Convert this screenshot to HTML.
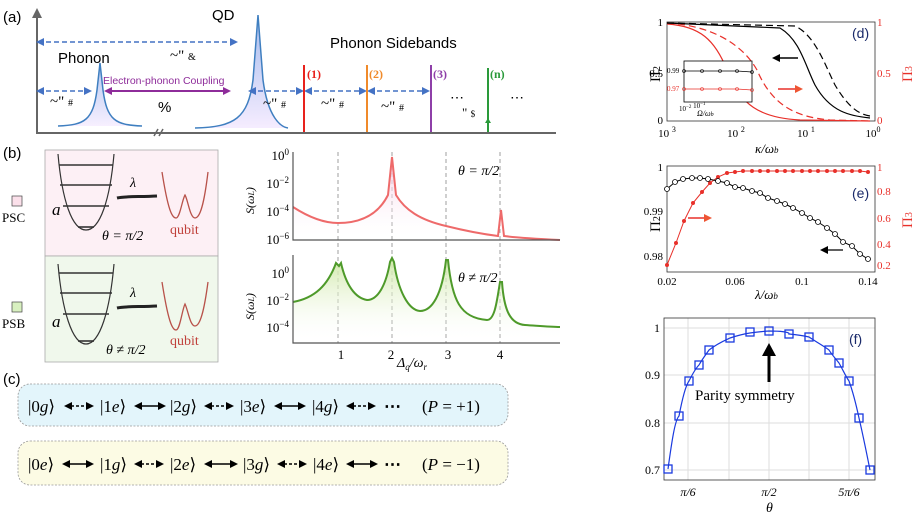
<!DOCTYPE html>
<html><head><meta charset="utf-8"><style>
body{margin:0;background:#fff}
svg{display:block}
.s{font-family:"Liberation Sans",sans-serif}
.m{font-family:"Liberation Serif",serif}
.i{font-family:"Liberation Serif",serif;font-style:italic}
</style></head><body>
<svg width="915" height="518" viewBox="0 0 915 518" xmlns="http://www.w3.org/2000/svg">
<defs>
<marker id="ah" markerWidth="8" markerHeight="8" refX="6" refY="4" orient="auto-start-reverse" markerUnits="userSpaceOnUse"><path d="M0,0 L8,4 L0,8 z" fill="#4472c4"/></marker>
<marker id="ap" markerWidth="8" markerHeight="8" refX="6" refY="4" orient="auto-start-reverse" markerUnits="userSpaceOnUse"><path d="M0,0 L8,4 L0,8 z" fill="#8e2c9a"/></marker>
<marker id="ak" markerWidth="8" markerHeight="8" refX="6" refY="4" orient="auto-start-reverse" markerUnits="userSpaceOnUse"><path d="M0,0 L8,4 L0,8 z" fill="#000"/></marker>
<marker id="ag" markerWidth="10" markerHeight="10" refX="8" refY="5" orient="auto" markerUnits="userSpaceOnUse"><path d="M0,0 L10,5 L0,10 z" fill="#666"/></marker>
<marker id="ar" markerWidth="8" markerHeight="8" refX="6" refY="4" orient="auto" markerUnits="userSpaceOnUse"><path d="M0,0 L8,4 L0,8 z" fill="#e53"/></marker>
<linearGradient id="pk" x1="0" y1="0" x2="0" y2="1"><stop offset="0" stop-color="#f4c6e0"/><stop offset="1" stop-color="#fff" stop-opacity="0"/></linearGradient>
<linearGradient id="gr" x1="0" y1="0" x2="0" y2="1"><stop offset="0" stop-color="#cfe8a8"/><stop offset="1" stop-color="#fff" stop-opacity="0"/></linearGradient>
<linearGradient id="pe" x1="0" y1="0" x2="0" y2="1"><stop offset="0" stop-color="#6a8fe0"/><stop offset="1" stop-color="#efe0ff"/></linearGradient>
</defs>

<!-- (a) -->
<text x="3" y="22" class="s" font-size="15">(a)</text>
<line x1="37" y1="134" x2="37" y2="10" stroke="#666" stroke-width="2" marker-end="url(#ag)"/>
<line x1="36" y1="133" x2="556" y2="133" stroke="#666" stroke-width="2"/>
<path d="M154,136 l4,-7 M159,136 l4,-7" stroke="#666" stroke-width="1.5"/>
<path d="M58,126 C85,125 93,120 97,90 L100,63 L103,90 C107,120 115,125 142,126 z" fill="url(#pe)" opacity="0.5"/>
<path d="M58,126 C85,125 93,120 97,90 L100,63 L103,90 C107,120 115,125 142,126" fill="none" stroke="#3f7fc0" stroke-width="1.5"/>
<path d="M195,128 C235,127 248,118 253,80 L258,15 L263,80 C268,118 281,127 288,128 z" fill="url(#pe)" opacity="0.6"/>
<path d="M195,128 C235,127 248,118 253,80 L258,15 L263,80 C268,118 281,127 288,128" fill="none" stroke="#3f7fc0" stroke-width="1.5"/>
<text x="58" y="63" class="s" font-size="15">Phonon</text>
<text x="212" y="20" class="s" font-size="15">QD</text>
<text x="330" y="48" class="s" font-size="15">Phonon Sidebands</text>
<g stroke="#4472c4" stroke-width="1.6" stroke-dasharray="5,3" fill="none">
<line x1="38" y1="42" x2="236" y2="42" marker-start="url(#ah)" marker-end="url(#ah)"/>
<line x1="38" y1="91" x2="90" y2="91" marker-start="url(#ah)" marker-end="url(#ah)"/>
<line x1="250" y1="91" x2="302" y2="91" marker-start="url(#ah)" marker-end="url(#ah)"/>
<line x1="306" y1="91" x2="365" y2="91" marker-start="url(#ah)" marker-end="url(#ah)"/>
<line x1="369" y1="91" x2="428" y2="91" marker-start="url(#ah)" marker-end="url(#ah)"/>
</g>
<line x1="106" y1="91" x2="229" y2="91" stroke="#8e2c9a" stroke-width="2" marker-start="url(#ap)" marker-end="url(#ap)"/>
<text x="103" y="84" class="s" font-size="10.5" fill="#8e2c9a">Electron-phonon Coupling</text>
<text x="158" y="112" class="s" font-size="15">%</text>
<text x="170" y="60" class="m" font-size="15">~" <tspan font-size="10">&amp;</tspan></text>
<text x="50" y="106" class="m" font-size="15">~" <tspan font-size="10">#</tspan></text>
<text x="263" y="108" class="m" font-size="15">~" <tspan font-size="10">#</tspan></text>
<text x="321" y="108" class="m" font-size="15">~" <tspan font-size="10">#</tspan></text>
<text x="381" y="111" class="m" font-size="15">~" <tspan font-size="10">#</tspan></text>
<line x1="304" y1="65" x2="304" y2="132" stroke="#e8221d" stroke-width="2"/>
<line x1="367" y1="65" x2="367" y2="132" stroke="#f08a2a" stroke-width="2"/>
<line x1="431" y1="65" x2="431" y2="132" stroke="#8e3fa8" stroke-width="2"/>
<line x1="488" y1="68" x2="488" y2="132" stroke="#2a9a3a" stroke-width="2"/>
<path d="M488,118 l-3,5 h6z" fill="#2a9a3a"/>
<text x="307" y="78" class="m" font-size="12" font-weight="bold" fill="#e8221d">(1)</text>
<text x="369" y="78" class="m" font-size="12" font-weight="bold" fill="#f08a2a">(2)</text>
<text x="433" y="78" class="m" font-size="12" font-weight="bold" fill="#8e3fa8">(3)</text>
<text x="490" y="78" class="m" font-size="12" font-weight="bold" fill="#2a9a3a">(n)</text>
<text x="450" y="102" class="s" font-size="14">⋯</text>
<text x="510" y="102" class="s" font-size="14">⋯</text>
<text x="462" y="117" class="m" font-size="13">" <tspan font-size="9">$</tspan></text>

<!-- (b) -->
<text x="3" y="158" class="s" font-size="15">(b)</text>
<rect x="45" y="150" width="173" height="106" fill="#fdf0f5" stroke="#aaa" stroke-width="0.8"/>
<rect x="45" y="256" width="173" height="106" fill="#f0f8ec" stroke="#aaa" stroke-width="0.8"/>
<rect x="12" y="196" width="10" height="10" fill="#fbe0ea" stroke="#444" stroke-width="0.7"/>
<text x="2" y="222" class="m" font-size="13">PSC</text>
<rect x="12" y="302" width="10" height="10" fill="#d8f0c0" stroke="#444" stroke-width="0.7"/>
<text x="2" y="328" class="m" font-size="13">PSB</text>
<g fill="none" stroke="#333" stroke-width="1.2">
<path d="M58,154 C62,200 72,230 86,230 C100,230 110,200 114,154"/>
<path d="M58,264 C62,310 72,344 86,344 C100,344 110,310 114,264"/>
</g>
<g stroke="#333" stroke-width="1.6">
<line x1="59" y1="165" x2="113" y2="165"/><line x1="60" y1="185" x2="112" y2="185"/><line x1="63" y1="206" x2="109" y2="206"/><line x1="78" y1="227" x2="94" y2="227"/>
<line x1="59" y1="273" x2="113" y2="273"/><line x1="60" y1="293" x2="112" y2="293"/><line x1="63" y1="314" x2="109" y2="314"/><line x1="78" y1="341" x2="94" y2="341"/>
</g>
<text x="52" y="215" class="i" font-size="17">a</text>
<text x="52" y="327" class="i" font-size="17">a</text>
<path d="M117,198 C125,196 140,197 157,196" stroke="#222" stroke-width="3"/>
<path d="M117,308 C125,306 140,307 157,306" stroke="#222" stroke-width="3"/>
<text x="130" y="187" class="i" font-size="14">λ</text>
<text x="130" y="297" class="i" font-size="14">λ</text>
<path d="M162,172 C168,210 172,218 176,218 C180,218 182,200 185,195 C188,200 190,218 195,218 C200,218 204,205 208,172" fill="none" stroke="#b8524a" stroke-width="1.3"/>
<path d="M162,282 C168,320 172,330 176,330 C180,330 182,310 185,304 C188,310 190,326 195,326 C200,326 204,312 208,282" fill="none" stroke="#b8524a" stroke-width="1.3"/>
<text x="170" y="234" class="m" font-size="14" fill="#c0403a">qubit</text>
<text x="170" y="345" class="m" font-size="14" fill="#c0403a">qubit</text>
<text x="102" y="240" class="i" font-size="14">θ = π/2</text>
<text x="106" y="354" class="i" font-size="14">θ ≠ π/2</text>

<!-- spectra -->
<g stroke="#888" stroke-width="0.8" stroke-dasharray="4,3">
<line x1="338" y1="152" x2="338" y2="343"/><line x1="392" y1="152" x2="392" y2="343"/><line x1="446" y1="152" x2="446" y2="343"/><line x1="500" y1="152" x2="500" y2="343"/>
</g>
<path d="M293,207 C310,218 325,223 338,223 C360,223 378,215 388,195 L392,157 L396,195 C405,210 420,220 446,226 C470,232 490,235 498,236 L501,210 L504,236 C520,238 540,239 560,240 L560,240 L293,240z" fill="url(#pk)"/>
<path d="M293,207 C310,218 325,223 338,223 C360,223 378,215 388,195 L392,157 L396,195 C405,210 420,220 446,226 C470,232 490,235 498,236 L501,210 L504,236 C520,238 540,239 560,240" fill="none" stroke="#ee6a6a" stroke-width="2"/>
<path d="M293,302 C315,298 328,285 336,263 L339,266 L341,263 C346,285 355,298 367,300 C378,300 386,285 390,262 L392,258 L394,262 C398,290 408,310 420,311 C432,311 442,295 446,260 L448,260 C452,300 460,318 487,320 C495,320 497,300 500,282 L502,282 C504,310 510,324 525,325 C540,326 550,327 560,327 L560,343 L293,343z" fill="url(#gr)"/>
<path d="M293,302 C315,298 328,285 336,263 L339,266 L341,263 C346,285 355,298 367,300 C378,300 386,285 390,262 L392,258 L394,262 C398,290 408,310 420,311 C432,311 442,295 446,260 L448,260 C452,300 460,318 487,320 C495,320 497,300 500,282 L502,282 C504,310 510,324 525,325 C540,326 550,327 560,327" fill="none" stroke="#4e9a2a" stroke-width="2"/>
<g fill="none" stroke="#555" stroke-width="1.2">
<polyline points="293,152 293,240 560,240"/>
<polyline points="293,255 293,343 560,343"/>
</g>
<g class="m" font-size="13" text-anchor="end">
<text x="289" y="160">10<tspan dy="-5" font-size="9">0</tspan></text>
<text x="289" y="188">10<tspan dy="-5" font-size="9">−2</tspan></text>
<text x="289" y="216">10<tspan dy="-5" font-size="9">−4</tspan></text>
<text x="289" y="244">10<tspan dy="-5" font-size="9">−6</tspan></text>
<text x="289" y="278">10<tspan dy="-5" font-size="9">0</tspan></text>
<text x="289" y="305">10<tspan dy="-5" font-size="9">−2</tspan></text>
<text x="289" y="332">10<tspan dy="-5" font-size="9">−4</tspan></text>
</g>
<text class="i" font-size="12" transform="translate(254,214) rotate(-90)">S(ω<tspan font-size="8">L</tspan>)</text>
<text class="i" font-size="12" transform="translate(254,320) rotate(-90)">S(ω<tspan font-size="8">L</tspan>)</text>
<text x="458" y="175" class="i" font-size="14">θ = π/2</text>
<text x="458" y="282" class="i" font-size="14">θ ≠ π/2</text>
<g class="m" font-size="13" text-anchor="middle">
<text x="341" y="359">1</text><text x="391" y="359">2</text><text x="448" y="359">3</text><text x="500" y="359">4</text>
</g>
<text x="397" y="367" class="i" font-size="14">Δ<tspan font-size="9" dy="3">q</tspan><tspan dy="-3">/ω</tspan><tspan font-size="9" dy="3">r</tspan></text>

<!-- (c) -->
<text x="3" y="384" class="s" font-size="15">(c)</text>
<rect x="18" y="384" width="490" height="42" rx="12" fill="#e3f5fb" stroke="#999" stroke-width="0.8" stroke-dasharray="2,1.5"/>
<rect x="18" y="441" width="490" height="44" rx="12" fill="#fcfbe4" stroke="#999" stroke-width="0.8" stroke-dasharray="2,1.5"/>
<g class="m" font-size="17">
<text x="28" y="412">|0<tspan font-style="italic">g</tspan>⟩</text>
<text x="100" y="412">|1<tspan font-style="italic">e</tspan>⟩</text>
<text x="170" y="412">|2<tspan font-style="italic">g</tspan>⟩</text>
<text x="240" y="412">|3<tspan font-style="italic">e</tspan>⟩</text>
<text x="312" y="412">|4<tspan font-style="italic">g</tspan>⟩</text>
<text x="384" y="412" font-weight="bold">⋯</text>
<text x="422" y="412">(<tspan font-style="italic">P</tspan> = +1)</text>
<text x="28" y="470">|0<tspan font-style="italic">e</tspan>⟩</text>
<text x="100" y="470">|1<tspan font-style="italic">g</tspan>⟩</text>
<text x="170" y="470">|2<tspan font-style="italic">e</tspan>⟩</text>
<text x="243" y="470">|3<tspan font-style="italic">g</tspan>⟩</text>
<text x="313" y="470">|4<tspan font-style="italic">e</tspan>⟩</text>
<text x="384" y="470" font-weight="bold">⋯</text>
<text x="422" y="470">(<tspan font-style="italic">P</tspan> = −1)</text>
</g>
<g stroke="#000" stroke-width="1.6">
<line x1="66" y1="406" x2="92" y2="406" stroke-dasharray="3,2" marker-start="url(#ak)" marker-end="url(#ak)"/>
<line x1="136" y1="406" x2="164" y2="406" marker-start="url(#ak)" marker-end="url(#ak)"/>
<line x1="206" y1="406" x2="232" y2="406" stroke-dasharray="3,2" marker-start="url(#ak)" marker-end="url(#ak)"/>
<line x1="276" y1="406" x2="304" y2="406" marker-start="url(#ak)" marker-end="url(#ak)"/>
<line x1="348" y1="406" x2="374" y2="406" stroke-dasharray="3,2" marker-start="url(#ak)" marker-end="url(#ak)"/>
<line x1="64" y1="464" x2="92" y2="464" marker-start="url(#ak)" marker-end="url(#ak)"/>
<line x1="136" y1="464" x2="162" y2="464" stroke-dasharray="3,2" marker-start="url(#ak)" marker-end="url(#ak)"/>
<line x1="206" y1="464" x2="236" y2="464" marker-start="url(#ak)" marker-end="url(#ak)"/>
<line x1="279" y1="464" x2="305" y2="464" stroke-dasharray="3,2" marker-start="url(#ak)" marker-end="url(#ak)"/>
<line x1="348" y1="464" x2="376" y2="464" marker-start="url(#ak)" marker-end="url(#ak)"/>
</g>

<!-- (d) -->
<rect x="667" y="22" width="208" height="99" fill="none" stroke="#333" stroke-width="0.8"/>
<path d="M667,24 C700,26 715,40 727,70 C740,105 760,118 800,120 L870,121" fill="none" stroke="#e8302a" stroke-width="1.2"/>
<path d="M667,23 C705,25 740,40 757,70 C772,105 795,117 830,120 L870,121" fill="none" stroke="#e8302a" stroke-width="1.2" stroke-dasharray="7,4"/>
<path d="M667,23 L780,28 C800,40 805,65 815,85 C830,112 850,116 870,118" fill="none" stroke="#000" stroke-width="1.2"/>
<path d="M667,23 L795,26 C815,35 825,65 835,85 C850,110 860,114 870,116" fill="none" stroke="#000" stroke-width="1.2" stroke-dasharray="7,4"/>
<rect x="684" y="61" width="68" height="41" fill="#fff" stroke="#000" stroke-width="0.8"/>
<polyline points="684,71 702,71 720,71 737,71 752,72" fill="none" stroke="#000" stroke-width="0.8"/>
<polyline points="684,89 702,89 720,89 737,89 752,90" fill="none" stroke="#e8302a" stroke-width="0.8"/>
<g fill="none" stroke="#000" stroke-width="0.6"><circle cx="684" cy="71" r="1.5"/><circle cx="702" cy="71" r="1.5"/><circle cx="720" cy="71" r="1.5"/><circle cx="737" cy="71" r="1.5"/><circle cx="752" cy="72" r="1.5"/></g>
<g fill="none" stroke="#e8302a" stroke-width="0.6"><circle cx="684" cy="89" r="1.5"/><circle cx="702" cy="89" r="1.5"/><circle cx="720" cy="89" r="1.5"/><circle cx="737" cy="89" r="1.5"/><circle cx="752" cy="90" r="1.5"/></g>
<text x="667" y="73" class="m" font-size="7">0.99</text>
<text x="667" y="91" class="m" font-size="7" fill="#e8302a">0.97</text>
<text x="679" y="111" class="m" font-size="7">10<tspan dy="-3" font-size="5">−2</tspan>    10<tspan dy="-3" font-size="5">−1</tspan></text>
<text x="697" y="116" class="i" font-size="8">Ω/ω<tspan font-size="6">b</tspan></text>
<line x1="798" y1="58" x2="774" y2="58" stroke="#000" stroke-width="1.5" marker-end="url(#ak)"/>
<line x1="778" y1="89" x2="801" y2="89" stroke="#e8302a" stroke-width="1.5" marker-end="url(#ar)"/>
<text x="852" y="38" class="s" font-size="14" fill="#1a2a6a">(d)</text>
<g class="m" font-size="11" text-anchor="end">
<text x="663" y="26">1</text><text x="663" y="77">0.5</text><text x="663" y="124">0</text>
</g>
<g class="m" font-size="11" fill="#e8302a">
<text x="877" y="26">1</text><text x="877" y="77">0.5</text><text x="877" y="124">0</text>
</g>
<text class="m" font-size="15" transform="translate(660,82) rotate(-90)">Π<tspan font-size="10">2</tspan></text>
<text class="m" font-size="15" fill="#e8302a" transform="translate(912,82) rotate(-90)">Π<tspan font-size="10">3</tspan></text>
<g class="m" font-size="11" text-anchor="middle">
<text x="667" y="137">10 <tspan dy="-5" font-size="8">3</tspan></text>
<text x="736" y="137">10 <tspan dy="-5" font-size="8">2</tspan></text>
<text x="806" y="137">10 <tspan dy="-5" font-size="8">1</tspan></text>
<text x="873" y="137">10<tspan dy="-5" font-size="8">0</tspan></text>
</g>
<text x="755" y="153" class="i" font-size="13">κ/ω<tspan font-size="9">b</tspan></text>

<!-- (e) -->
<rect x="667" y="166" width="208" height="106" fill="none" stroke="#333" stroke-width="0.8"/>
<polyline fill="none" stroke="#e8302a" stroke-width="1" points="667,265 676,243 684,221 693,203 702,192 710,183 718,177 727,173 735,172 743,171 752,171 760,171 768,171 777,171 785,171 793,171 802,171 810,171 818,171 827,171 835,171 843,171 852,171 860,171 868,172"/>
<g fill="#e8302a"><circle cx="667" cy="265" r="2"/><circle cx="676" cy="243" r="2"/><circle cx="684" cy="221" r="2"/><circle cx="693" cy="203" r="2"/><circle cx="702" cy="192" r="2"/><circle cx="710" cy="183" r="2"/><circle cx="718" cy="177" r="2"/><circle cx="727" cy="173" r="2"/><circle cx="735" cy="172" r="2"/><circle cx="743" cy="171" r="2"/><circle cx="752" cy="171" r="2"/><circle cx="760" cy="171" r="2"/><circle cx="768" cy="171" r="2"/><circle cx="777" cy="171" r="2"/><circle cx="785" cy="171" r="2"/><circle cx="793" cy="171" r="2"/><circle cx="802" cy="171" r="2"/><circle cx="810" cy="171" r="2"/><circle cx="818" cy="171" r="2"/><circle cx="827" cy="171" r="2"/><circle cx="835" cy="171" r="2"/><circle cx="843" cy="171" r="2"/><circle cx="852" cy="171" r="2"/><circle cx="860" cy="171" r="2"/><circle cx="868" cy="172" r="2"/></g>
<polyline fill="none" stroke="#000" stroke-width="1" points="667,189 675,182 683,179 692,178 700,178 708,179 718,181 727,183 735,187 743,188 752,191 760,193 768,198 777,201 785,204 793,208 802,213 810,218 818,222 827,228 835,234 843,242 852,246 860,254 868,259"/>
<g fill="#fff" stroke="#000" stroke-width="0.8"><circle cx="667" cy="189" r="2.5"/><circle cx="675" cy="182" r="2.5"/><circle cx="683" cy="179" r="2.5"/><circle cx="692" cy="178" r="2.5"/><circle cx="700" cy="178" r="2.5"/><circle cx="708" cy="179" r="2.5"/><circle cx="718" cy="181" r="2.5"/><circle cx="727" cy="183" r="2.5"/><circle cx="735" cy="187" r="2.5"/><circle cx="743" cy="188" r="2.5"/><circle cx="752" cy="191" r="2.5"/><circle cx="760" cy="193" r="2.5"/><circle cx="768" cy="198" r="2.5"/><circle cx="777" cy="201" r="2.5"/><circle cx="785" cy="204" r="2.5"/><circle cx="793" cy="208" r="2.5"/><circle cx="802" cy="213" r="2.5"/><circle cx="810" cy="218" r="2.5"/><circle cx="818" cy="222" r="2.5"/><circle cx="827" cy="228" r="2.5"/><circle cx="835" cy="234" r="2.5"/><circle cx="843" cy="242" r="2.5"/><circle cx="852" cy="246" r="2.5"/><circle cx="860" cy="254" r="2.5"/><circle cx="868" cy="259" r="2.5"/></g>
<line x1="688" y1="218" x2="710" y2="218" stroke="#e8302a" stroke-width="1.5" marker-end="url(#ar)"/>
<line x1="843" y1="250" x2="822" y2="250" stroke="#000" stroke-width="1.2" marker-end="url(#ak)"/>
<text x="852" y="198" class="s" font-size="14" fill="#1a2a6a">(e)</text>
<g class="m" font-size="11" text-anchor="end">
<text x="663" y="171">1</text><text x="663" y="215">0.99</text><text x="663" y="260">0.98</text>
</g>
<g class="m" font-size="11" fill="#e8302a">
<text x="877" y="171">1</text><text x="877" y="195">0.8</text><text x="877" y="222">0.6</text><text x="877" y="248">0.4</text><text x="877" y="269">0.2</text>
</g>
<text class="m" font-size="15" transform="translate(660,232) rotate(-90)">Π<tspan font-size="10">2</tspan></text>
<text class="m" font-size="15" fill="#e8302a" transform="translate(912,228) rotate(-90)">Π<tspan font-size="10">3</tspan></text>
<g class="m" font-size="11" text-anchor="middle">
<text x="667" y="285">0.02</text><text x="735" y="285">0.06</text><text x="802" y="285">0.1</text><text x="868" y="285">0.14</text>
</g>
<text x="755" y="299" class="i" font-size="13">λ/ω<tspan font-size="9">b</tspan></text>

<!-- (f) -->
<g stroke="#ddd" stroke-width="1">
<line x1="664" y1="328" x2="875" y2="328"/><line x1="664" y1="375" x2="875" y2="375"/><line x1="664" y1="423" x2="875" y2="423"/><line x1="664" y1="470" x2="875" y2="470"/>
<line x1="688" y1="318" x2="688" y2="480"/><line x1="729" y1="318" x2="729" y2="480"/><line x1="769" y1="318" x2="769" y2="480"/><line x1="809" y1="318" x2="809" y2="480"/><line x1="849" y1="318" x2="849" y2="480"/>
</g>
<rect x="664" y="318" width="211" height="162" fill="none" stroke="#333" stroke-width="0.8"/>
<path d="M668,469 C672,440 675,420 679,416 C683,395 686,385 689,381 C692,375 696,368 699,365 C703,358 707,353 709,350 C718,343 728,339 730,338 C745,333 755,332 769,331 C780,331 790,332 789,334 C800,335 805,336 809,337 C818,343 825,347 829,350 C832,355 836,359 839,363 C843,370 846,377 849,381 C853,392 856,404 859,418 C863,435 867,455 870,470" fill="none" stroke="#1a3adf" stroke-width="1.2"/>
<g fill="none" stroke="#1a3adf" stroke-width="1.3">
<rect x="664" y="465" width="8" height="8"/><rect x="675" y="412" width="8" height="8"/><rect x="685" y="377" width="8" height="8"/><rect x="695" y="361" width="8" height="8"/><rect x="705" y="346" width="8" height="8"/><rect x="726" y="334" width="8" height="8"/><rect x="746" y="328" width="8" height="8"/><rect x="765" y="327" width="8" height="8"/><rect x="785" y="330" width="8" height="8"/><rect x="805" y="333" width="8" height="8"/><rect x="825" y="346" width="8" height="8"/><rect x="835" y="359" width="8" height="8"/><rect x="845" y="377" width="8" height="8"/><rect x="855" y="414" width="8" height="8"/><rect x="866" y="466" width="8" height="8"/>
</g>
<line x1="769" y1="382" x2="769" y2="352" stroke="#000" stroke-width="3"/>
<path d="M762,356 L769,343 L776,356 z" fill="#000"/>
<text x="695" y="400" class="m" font-size="15">Parity symmetry</text>
<text x="849" y="344" class="s" font-size="14" fill="#1a2a6a">(f)</text>
<g class="m" font-size="12" text-anchor="end">
<text x="660" y="332">1</text><text x="660" y="379">0.9</text><text x="660" y="427">0.8</text><text x="660" y="474">0.7</text>
</g>
<g class="i" font-size="12" text-anchor="middle">
<text x="688" y="496">π/6</text><text x="769" y="496">π/2</text><text x="849" y="496">5π/6</text>
</g>
<text x="766" y="512" class="i" font-size="14">θ</text>
</svg>
</body></html>
